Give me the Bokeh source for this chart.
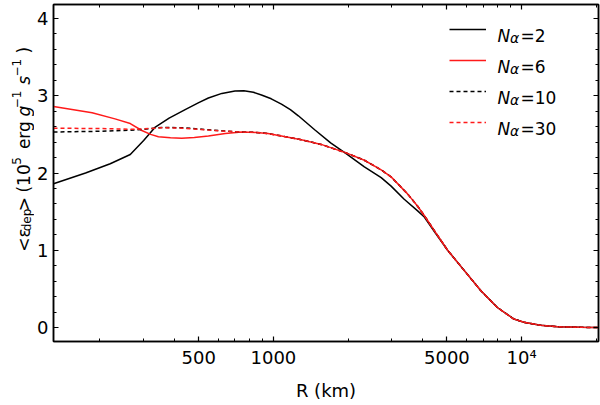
from math import pi
from bokeh.plotting import figure
from bokeh.layouts import row
from bokeh.models import (Range1d, FixedTicker, LinearAxis, LogAxis, Label,
                          Legend, LegendItem)
from bokeh.core.properties import value
from bokeh.embed import file_html
from bokeh.resources import INLINE

# ---------------- data ----------------
R_n2 = [130, 175, 220, 265, 300, 333, 380, 441, 500, 547, 620, 700, 760, 830,
        895, 980, 1077, 1170, 1260, 1466, 1700, 1963, 2325, 2717, 2979, 3364,
        3811, 4053, 4500, 5033, 5866, 6840, 7980, 9310, 10200, 11900, 14000,
        17260, 20400]
E_n2 = [1.86, 2.00, 2.12, 2.24, 2.42, 2.59, 2.71, 2.82, 2.91, 2.97, 3.03, 3.06,
        3.065, 3.045, 3.01, 2.96, 2.89, 2.82, 2.74, 2.56, 2.39, 2.25, 2.08, 1.94,
        1.83, 1.66, 1.51, 1.43, 1.22, 1.00, 0.74, 0.48, 0.26, 0.11, 0.07, 0.03,
        0.01, 0.004, 0.0]

R_n6 = [130, 186, 230, 265, 295, 320, 344, 385, 427, 480, 547, 640, 744, 850,
        950, 1077, 1296, 1557, 1963, 2325, 2717, 2979, 3470, 3811, 4053, 4500,
        5033, 5866, 6840, 7980, 9310, 10200, 11900, 14000, 17260, 20400]
E_n6 = [2.86, 2.78, 2.70, 2.64, 2.55, 2.50, 2.47, 2.455, 2.45, 2.46, 2.48, 2.51,
        2.53, 2.525, 2.51, 2.48, 2.43, 2.37, 2.26, 2.165, 2.04, 1.95, 1.73, 1.57,
        1.45, 1.23, 1.00, 0.74, 0.48, 0.26, 0.11, 0.07, 0.03, 0.01, 0.004, 0.0]

R_n10 = [130, 200, 277, 355, 431, 547, 650, 744, 850, 950, 1077, 1296, 1557,
         1963, 2325, 2717, 2979, 3470, 3811, 4053, 4500, 5033, 5866, 6840, 7980,
         9310, 10200, 11900, 14000, 17260, 20400]
E_n10 = [2.53, 2.54, 2.555, 2.59, 2.585, 2.56, 2.54, 2.53, 2.525, 2.51, 2.48,
         2.43, 2.37, 2.26, 2.165, 2.04, 1.95, 1.73, 1.57, 1.45, 1.23, 1.00, 0.74,
         0.48, 0.26, 0.11, 0.07, 0.03, 0.01, 0.004, 0.0]

R_n30 = [130, 200, 277, 355, 431, 547, 650, 744, 850, 950, 1077, 1296, 1557,
         1963, 2325, 2717, 2979, 3470, 3811, 4053, 4500, 5033, 5866, 6840, 7980,
         9310, 10200, 11900, 14000, 17260, 20400]
E_n30 = [2.58, 2.575, 2.565, 2.585, 2.58, 2.555, 2.54, 2.53, 2.525, 2.51, 2.48,
         2.43, 2.37, 2.26, 2.165, 2.04, 1.95, 1.73, 1.57, 1.45, 1.23, 1.00, 0.74,
         0.48, 0.26, 0.11, 0.07, 0.03, 0.01, 0.004, 0.0]

series_names = ["2", "6", "10", "30"]

x_major = [500, 1000, 5000, 10000]
x_minor = [200, 300, 400, 600, 700, 800, 900, 2000, 3000, 4000, 6000, 7000,
           8000, 9000, 20000]
x_labels = {500: "500", 1000: "1000", 5000: "5000", 10000: "10\u2074"}
y_major = [0, 1, 2, 3, 4]
y_minor = [-0.2, 0.2, 0.4, 0.6, 0.8, 1.2, 1.4, 1.6, 1.8, 2.2, 2.4, 2.6, 2.8,
           3.2, 3.4, 3.6, 3.8, 4.2]

FONT = "DejaVu Sans"
H = 405
LAB_W = 34           # strip holding the rotated y-axis title
MAIN_W = 600 - LAB_W

# ---------------- main figure ----------------
p = figure(width=MAIN_W, height=H, x_axis_type="log",
           x_range=Range1d(130, 20400), y_range=Range1d(-0.18, 4.18),
           output_backend="svg", toolbar_location=None,
           min_border_left=17, min_border_right=2, min_border_top=4,
           min_border_bottom=64)
p.grid.visible = False
p.outline_line_color = "black"
p.outline_line_width = 1.5
p.background_fill_color = "white"
p.border_fill_color = "white"


def style_axis(ax, major, minor, overrides=None, show_labels=True):
    ax.ticker = FixedTicker(ticks=major, minor_ticks=minor)
    ax.axis_line_color = "black"
    ax.axis_line_width = 1.5
    ax.major_tick_in = 5
    ax.major_tick_out = 0
    ax.minor_tick_in = 3
    ax.minor_tick_out = 0
    ax.major_tick_line_color = "black"
    ax.minor_tick_line_color = "black"
    ax.major_tick_line_width = 1.2
    ax.minor_tick_line_width = 1.0
    if overrides:
        ax.major_label_overrides = overrides
    if show_labels:
        ax.major_label_text_font = FONT
        ax.major_label_text_font_size = "18px"
        ax.major_label_text_color = "black"
        ax.major_label_standoff = 5
    else:
        ax.major_label_text_font_size = "1px"
        ax.major_label_text_alpha = 0
        ax.major_label_standoff = 0


xb = p.xaxis[0]
yl = p.yaxis[0]
style_axis(xb, x_major, x_minor, x_labels)
style_axis(yl, y_major, y_minor)
xb.axis_label = "R (km)"
xb.axis_label_text_font = FONT
xb.axis_label_text_font_size = "18px"
xb.axis_label_text_font_style = "normal"
xb.axis_label_text_color = "black"
xb.axis_label_standoff = 9

top_ax = LogAxis()
style_axis(top_ax, x_major, x_minor, show_labels=False)
right_ax = LinearAxis()
style_axis(right_ax, y_major, y_minor, show_labels=False)
p.add_layout(top_ax, "above")
p.add_layout(right_ax, "right")

# ---------------- curves ----------------
RED = "#ff1a1a"
r2 = p.line(R_n2, E_n2, line_color="black", line_width=1.5)
r6 = p.line(R_n6, E_n6, line_color=RED, line_width=1.5)
r10 = p.line(R_n10, E_n10, line_color="black", line_width=1.5, line_dash="4 3")
r30 = p.line(R_n30, E_n30, line_color=RED, line_width=1.5, line_dash="4 3")

# ---------------- helpers: reference page px -> frame screen px ----------------
FRAME_LEFT, FRAME_BOTTOM = 51, 341


def sx(rx):
    return rx - FRAME_LEFT


def sy(ry):
    return FRAME_BOTTOM - ry


# ---------------- legend ----------------
row_y = [35, 66, 97, 128]
legend = Legend(items=[LegendItem(label=" ", renderers=[r]) for r in (r2, r6, r10, r30)],
                location=(sx(446.7), sy(row_y[0] - 10 + 113) + 6),
                glyph_width=37, glyph_height=20, label_height=20, label_width=0,
                spacing=11, padding=0, margin=0, border_line_color=None,
                background_fill_alpha=0, label_text_font_size="1px",
                label_text_alpha=0, label_standoff=0)
p.add_layout(legend)

for name, ry in zip(series_names, row_y):
    p.add_layout(Label(x=sx(495), y=sy(ry), x_units="screen", y_units="screen",
                       text="N", text_font=FONT, text_font_size="17px",
                       text_font_style="italic", text_align="left",
                       text_baseline="alphabetic", text_color="black"))
    p.add_layout(Label(x=sx(507.5), y=sy(ry + 2.5), x_units="screen", y_units="screen",
                       text="\u03b1", text_font=FONT, text_font_size="14px",
                       text_font_style="italic", text_align="left",
                       text_baseline="alphabetic", text_color="black"))
    p.add_layout(Label(x=sx(518), y=sy(ry), x_units="screen", y_units="screen",
                       text="=" + name, text_font=FONT, text_font_size="17px",
                       text_align="left", text_baseline="alphabetic",
                       text_color="black"))

# ---------------- y-axis title strip (data units = page pixels) ----------------
lab = figure(width=LAB_W, height=H, x_range=Range1d(0, LAB_W), y_range=Range1d(H, 0),
             output_backend="svg", toolbar_location=None,
             x_axis_location=None, y_axis_location=None, min_border=0)
lab.grid.visible = False
lab.outline_line_color = None
lab.background_fill_color = "white"
lab.border_fill_color = "white"

ylab = [  # text, size, style, baseline x, centre y
    ("<\u03b5", 17, "normal", 23, 283),
    ("dep", 12, "normal", 26.5, 259),
    (">", 17, "normal", 23, 240),
    ("(10", 17, "normal", 23, 209),
    ("5", 12, "normal", 16, 188),
    ("erg", 17, "normal", 23, 157),
    ("g", 17, "italic", 23, 128),
    ("\u22121", 12, "normal", 16, 114),
    ("s", 17, "italic", 23, 91),
    ("\u22121", 12, "normal", 16, 76),
    (")", 17, "normal", 23, 55),
]
for txt, size, style, bx, cy in ylab:
    lab.text(x=[bx], y=[cy], text=[txt], angle=pi / 2, text_align="center",
             text_baseline="alphabetic", text_font=value(FONT),
             text_font_size=f"{size}px", text_font_style=style,
             text_color="black")

layout = row(lab, p)
open("out.html", "w").write(file_html(layout, INLINE))
